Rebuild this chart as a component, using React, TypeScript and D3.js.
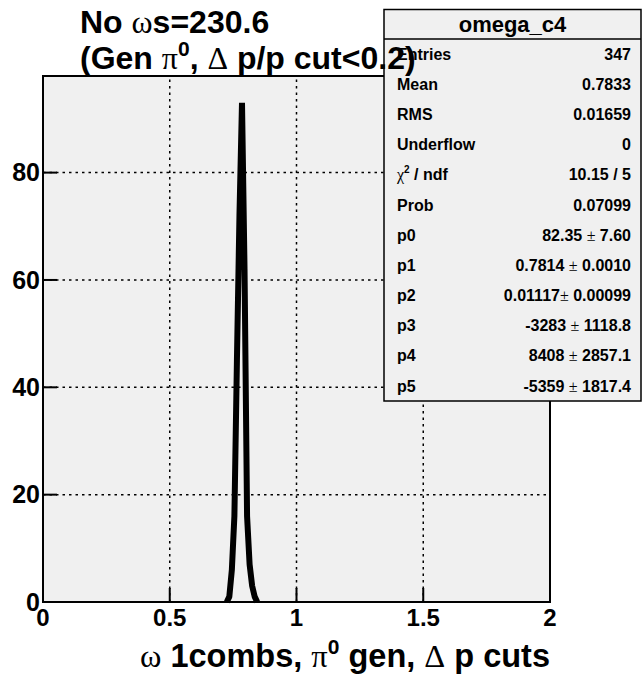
import React from "react";
import * as d3 from "d3";

const binCenters = [0.725, 0.735, 0.745, 0.755, 0.765, 0.775, 0.785, 0.795, 0.805, 0.815, 0.825, 0.835, 0.845];
const counts = [0, 1, 6, 16, 45, 72, 93, 62, 16, 7, 3, 1, 0];
const xTicks = [0, 0.5, 1, 1.5, 2];
const xTickLabels = ["0", "0.5", "1", "1.5", "2"];
const yTicks = [0, 20, 40, 60, 80];
const statLabels = ["Entries", "Mean", "RMS", "Underflow", "χ2 / ndf", "Prob", "p0", "p1", "p2", "p3", "p4", "p5"];
const statValues = ["347", "0.7833", "0.01659", "0", "10.15 / 5", "0.07099", "82.35 ± 7.60", "0.7814 ± 0.0010", "0.01117± 0.00099", "-3283 ± 1118.8", "8408 ± 2857.1", "-5359 ± 1817.4"];

const W = 644, H = 676;
const L = 43, R = 550, T = 76, B = 602;
const SANS = "'Liberation Sans', Arial, sans-serif";
const SERIF = "'Liberation Serif', 'Times New Roman', serif";

function renderStatLabel(s: string) {
  if (s.startsWith("χ2")) {
    return (
      <>
        <tspan fontFamily={SERIF} fontWeight="normal">χ</tspan>
        <tspan fontSize={10} dy={-7}>2</tspan>
        <tspan dy={7}> / ndf</tspan>
      </>
    );
  }
  return s;
}

function renderStatValue(s: string) {
  const i = s.indexOf("±");
  if (i < 0) return s;
  return (
    <>
      {s.slice(0, i)}
      <tspan fontFamily={SERIF} fontWeight="normal">±</tspan>
      {s.slice(i + 1)}
    </>
  );
}

export default function App() {
  const x = d3.scaleLinear().domain([0, 2]).range([L, R]);
  const y = d3.scaleLinear().domain([0, 98]).range([B, T]);
  const line = d3
    .line<number>()
    .x((_, i) => x(binCenters[i]))
    .y((d) => y(d));
  const path = line(counts) || "";

  const boxL = 384, boxR = 641, boxT = 9.5, boxB = 401;
  const headerH = 29.5;
  const rowH = (boxB - boxT - headerH) / statLabels.length;

  return (
    <svg
      width={W}
      height={H}
      style={{ position: "absolute", left: 0, top: 0, background: "#fff" }}
      fontFamily={SANS}
    >
      <rect x={0} y={0} width={W} height={H} fill="#fff" />
      <rect x={L} y={T} width={R - L} height={B - T} fill="#f0f0f0" />
      {/* grid */}
      {xTicks.slice(1, -1).map((t) => (
        <line key={"gx" + t} x1={x(t)} x2={x(t)} y1={B} y2={T} stroke="#000" strokeWidth={1.5} strokeDasharray="2.5,4" />
      ))}
      {yTicks.slice(1).map((t) => (
        <line key={"gy" + t} x1={L} x2={R} y1={y(t)} y2={y(t)} stroke="#000" strokeWidth={1.5} strokeDasharray="2.5,4" />
      ))}
      {/* ticks */}
      {xTicks.map((t) => (
        <line key={"tx" + t} x1={x(t)} x2={x(t)} y1={B} y2={B - 14} stroke="#000" strokeWidth={2} />
      ))}
      {yTicks.map((t) => (
        <line key={"ty" + t} x1={L} x2={L + 14} y1={y(t)} y2={y(t)} stroke="#000" strokeWidth={2} />
      ))}
      {/* curve */}
      <path d={path} fill="none" stroke="#000" strokeWidth={6} strokeLinejoin="bevel" />
      {/* frame */}
      <rect x={L} y={T} width={R - L} height={B - T} fill="none" stroke="#000" strokeWidth={2} />
      {/* tick labels */}
      {xTicks.map((t, i) => (
        <text key={"lx" + t} x={x(t)} y={626} textAnchor="middle" fontSize={24} fontWeight="bold">
          {xTickLabels[i]}
        </text>
      ))}
      {yTicks.map((t) => (
        <text key={"ly" + t} x={40} y={y(t)} dy="0.35em" textAnchor="end" fontSize={25} fontWeight="bold">
          {t}
        </text>
      ))}
      {/* axis title */}
      <text x={R} y={667} textAnchor="end" fontSize={32.5} fontWeight="bold">
        <tspan fontFamily={SERIF} fontWeight="normal">ω</tspan>
        {" 1combs, "}
        <tspan fontFamily={SERIF} fontWeight="normal">π</tspan>
        <tspan fontSize={21} dy={-13}>0</tspan>
        <tspan dy={13}>{" gen, "}</tspan>
        <tspan fontFamily={SERIF} fontWeight="normal">Δ</tspan>
        {" p cuts"}
      </text>
      {/* title */}
      <text x={80} y={33} fontSize={32} fontWeight="bold">
        {"No "}
        <tspan fontFamily={SERIF} fontWeight="normal">ω</tspan>
        {"s=230.6"}
      </text>
      {/* stats box */}
      <rect x={boxL} y={boxT} width={boxR - boxL} height={boxB - boxT} fill="#f0f0f0" stroke="#000" strokeWidth={1.5} />
      <line x1={boxL} x2={boxR} y1={boxT + headerH} y2={boxT + headerH} stroke="#000" strokeWidth={1.5} />
      <text x={(boxL + boxR) / 2} y={boxT + headerH / 2} dy="0.35em" textAnchor="middle" fontSize={22} fontWeight="bold">
        omega_c4
      </text>
      {statLabels.map((s, i) => (
        <text key={"sl" + i} x={boxL + 13} y={boxT + headerH + rowH * (i + 0.5)} dy="0.35em" fontSize={16} fontWeight="bold">
          {renderStatLabel(s)}
        </text>
      ))}
      {statValues.map((s, i) => (
        <text key={"sv" + i} x={boxR - 10} y={boxT + headerH + rowH * (i + 0.5)} dy="0.35em" textAnchor="end" fontSize={16} fontWeight="bold">
          {renderStatValue(s)}
        </text>
      ))}
      {/* title line 2 (drawn over stats box as in reference) */}
      <text x={80} y={69} fontSize={32} fontWeight="bold">
        {"(Gen "}
        <tspan fontFamily={SERIF} fontWeight="normal">π</tspan>
        <tspan fontSize={21} dy={-13}>0</tspan>
        <tspan dy={13}>{", "}</tspan>
        <tspan fontFamily={SERIF} fontWeight="normal">Δ</tspan>
        {" p/p cut<0.2)"}
      </text>
    </svg>
  );
}
